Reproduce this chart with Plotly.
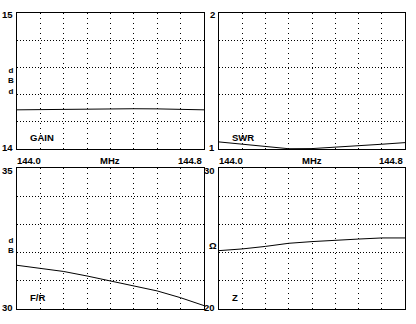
import plotly.graph_objects as go

freq = [144.0, 144.1, 144.2, 144.3, 144.4, 144.5, 144.6, 144.7, 144.8]
gain_dbd = [14.288, 14.290, 14.295, 14.296, 14.296, 14.296, 14.295, 14.290, 14.288]
swr = [1.052, 1.035, 1.015, 1.002, 1.003, 1.012, 1.022, 1.035, 1.047]
fr_db = [31.55, 31.45, 31.33, 31.17, 31.00, 30.82, 30.64, 30.40, 30.12]
z_ohm = [24.14, 24.26, 24.44, 24.66, 24.78, 24.89, 24.96, 25.04, 25.04]

x_labels = ["144.0", "MHz", "144.8"]
panel_names = ["GAIN", "SWR", "F/R", "Z"]
panel_ranges = [[14, 15], [1, 2], [30, 35], [20, 30]]
panel_units = ["d<br>B<br>d", "", "d<br>B", "Ω"]
series = [gain_dbd, swr, fr_db, z_ohm]

W, H = 416, 324
# plot-area boxes in pixels (left, right, top, bottom)
boxes = [(17, 204, 13, 149), (219, 405, 13, 149), (17, 204, 168, 309), (219, 405, 168, 309)]

FAMILY = "Liberation Sans, Arial, sans-serif"
FONT = dict(family=FAMILY, size=9.5, color="black", weight="bold")
UFONT = dict(family=FAMILY, size=8, color="black", weight="bold")

fig = go.Figure()
layout = dict(width=W, height=H, margin=dict(l=0, r=0, t=0, b=0),
              paper_bgcolor="white", plot_bgcolor="white", showlegend=False)
annotations = []

for i, (name, rng, units, vals, box) in enumerate(zip(panel_names, panel_ranges, panel_units, series, boxes)):
    n = "" if i == 0 else str(i + 1)
    xa, ya = "x" + n, "y" + n
    l, r, t, b = box
    layout["xaxis" + n] = dict(domain=[l / W, r / W], range=[freq[0], freq[-1]], anchor=ya,
                               tick0=freq[0], dtick=0.1, showgrid=True, gridcolor="black",
                               gridwidth=1, griddash="1px,4px", showticklabels=False, ticks="",
                               showline=True, linecolor="black", linewidth=1, mirror=True,
                               zeroline=False, fixedrange=True)
    layout["yaxis" + n] = dict(domain=[1 - b / H, 1 - t / H], range=rng, anchor=xa,
                               tick0=rng[0], dtick=(rng[1] - rng[0]) / 5, showgrid=True,
                               gridcolor="black", gridwidth=1, griddash="1px,2px",
                               showticklabels=False, ticks="", showline=True, linecolor="black",
                               linewidth=1, mirror=True, zeroline=False, fixedrange=True)
    fig.add_trace(go.Scatter(x=freq, y=vals, mode="lines", xaxis=xa, yaxis=ya,
                             line=dict(color="black", width=1), hoverinfo="skip"))
    xd, yd = xa + " domain", ya + " domain"
    # y range labels
    annotations.append(dict(text=str(rng[1]), xref=xd, x=0, xanchor="right", xshift=-2,
                            yref=yd, y=1, yanchor="middle", yshift=-2, showarrow=False, font=FONT))
    annotations.append(dict(text=str(rng[0]), xref=xd, x=0, xanchor="right", xshift=-2,
                            yref=yd, y=0, yanchor="middle", yshift=2, showarrow=False, font=FONT))
    # unit letters
    if units:
        annotations.append(dict(text=units, xref=xd, x=0, xanchor="center", xshift=-6,
                                yref=yd, y=0.5, yanchor="middle",
                                yshift=(0 if i == 0 else -7),
                                showarrow=False, font=UFONT if "<br>" in units else FONT))
    # panel name
    annotations.append(dict(text=name, xref=xd, x=0, xanchor="left", xshift=11,
                            yref=yd, y=0, yanchor="middle", yshift=12, showarrow=False, font=FONT))
    # x labels between the rows
    if i < 2:
        for j, (txt, anc) in enumerate(zip(x_labels, ["left", "center", "right"])):
            annotations.append(dict(text=txt, xref=xd, x=j / 2, xanchor=anc,
                                    xshift=(-2 if j == 0 else 0),
                                    yref=yd, y=0, yanchor="top", yshift=-4,
                                    showarrow=False, font=FONT))

layout["annotations"] = annotations
fig.update_layout(**layout)
fig.write_html("out.html")
